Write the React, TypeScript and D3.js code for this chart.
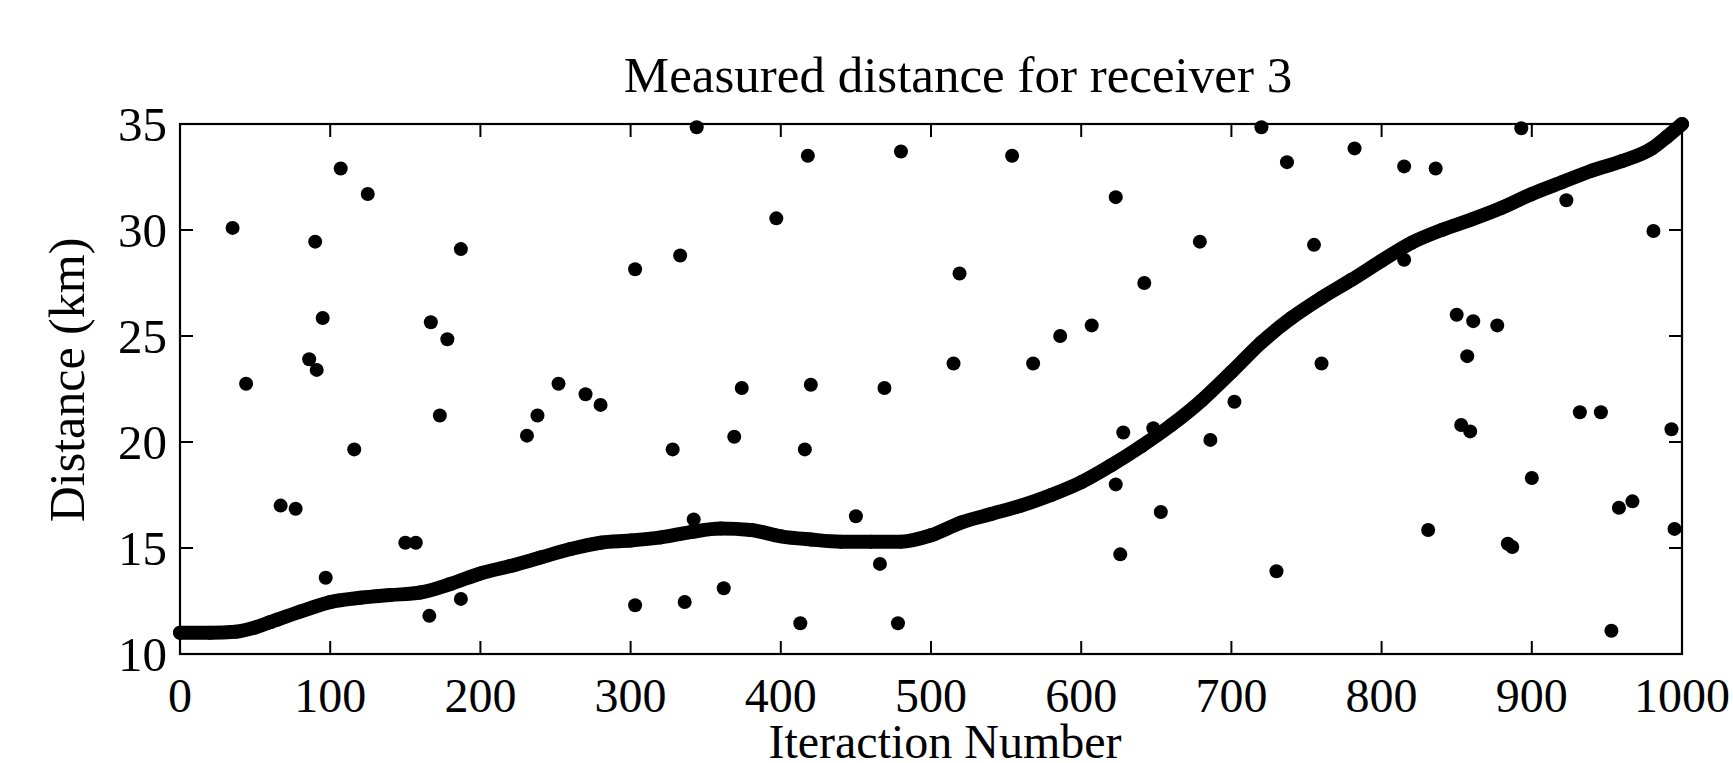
import React from "react";
import * as d3 from "d3";

// Dense tracked-distance curve (iteration, km)
const curveIter = [0, 20, 37, 50, 60, 80, 100, 120, 140, 160, 180, 200, 220, 240, 260, 280, 300, 320, 340, 360, 380, 400, 420, 440, 460, 480, 500, 520, 540, 560, 580, 600, 620, 640, 660, 680, 700, 720, 740, 760, 780, 800, 820, 840, 860, 880, 900, 920, 940, 960, 980, 990, 1000];
const curveDist = [11.0, 11.0, 11.05, 11.25, 11.5, 12.0, 12.45, 12.65, 12.78, 12.9, 13.3, 13.8, 14.15, 14.55, 14.95, 15.25, 15.35, 15.5, 15.75, 15.92, 15.85, 15.55, 15.4, 15.3, 15.3, 15.3, 15.6, 16.2, 16.6, 17.0, 17.5, 18.1, 18.9, 19.8, 20.8, 21.95, 23.3, 24.7, 25.85, 26.8, 27.65, 28.55, 29.4, 30.0, 30.5, 31.05, 31.7, 32.25, 32.8, 33.25, 33.85, 34.4, 35.0];

// Outlier measurements
const outlierIter = [35, 44, 67, 77, 86, 90, 91, 95, 97, 107, 116, 125, 150, 157, 166, 167, 173, 178, 187, 187, 231, 238, 252, 270, 280, 303, 303, 328, 333, 336, 342, 344, 362, 369, 374, 397, 413, 416, 418, 420, 450, 466, 469, 478, 480, 515, 519, 554, 568, 586, 607, 623, 623, 626, 628, 642, 648, 653, 679, 686, 702, 720, 730, 737, 755, 760, 782, 815, 815, 831, 836, 850, 853, 857, 859, 861, 877, 884, 887, 893, 900, 923, 932, 946, 953, 958, 967, 981, 993, 995];
const outlierDist = [30.1, 22.75, 17.0, 16.85, 23.9, 29.45, 23.4, 25.85, 13.6, 32.9, 19.65, 31.7, 15.25, 15.25, 11.8, 25.65, 21.25, 24.85, 29.1, 12.6, 20.3, 21.25, 22.75, 22.25, 21.75, 28.15, 12.3, 19.65, 28.8, 12.45, 16.35, 34.85, 13.1, 20.25, 22.55, 30.55, 11.45, 19.65, 33.5, 22.7, 16.5, 14.25, 22.55, 11.45, 33.7, 23.7, 27.95, 33.5, 23.7, 25.0, 25.5, 31.55, 18.0, 14.7, 20.45, 27.5, 20.65, 16.7, 29.45, 20.1, 21.9, 34.85, 13.9, 33.2, 29.3, 23.7, 33.85, 33.0, 28.6, 15.85, 32.9, 26.0, 20.8, 24.05, 20.5, 25.7, 25.5, 15.2, 15.05, 34.8, 18.3, 31.4, 21.4, 21.4, 11.1, 16.9, 17.2, 29.95, 20.6, 15.9];

const xTicks = [0, 100, 200, 300, 400, 500, 600, 700, 800, 900, 1000];
const yTicks = [10, 15, 20, 25, 30, 35];

const titleText = "Measured distance for receiver 3";
const xLabel = "Iteraction Number";
const yLabel = "Distance (km)";

export default function App() {
  const W = 1733, H = 763;
  const L = 180, R = 1682, T = 124, B = 654;
  const x = d3.scaleLinear().domain([0, 1000]).range([L, R]);
  const y = d3.scaleLinear().domain([10, 35]).range([B, T]);
  const font = "'Liberation Serif', 'Times New Roman', serif";
  const dotR = 7;
  const tickLen = 13;

  const curvePts: [number, number][] = curveIter.map((d, i) => [d, curveDist[i]]);
  const line = d3
    .line<[number, number]>()
    .x((d) => x(d[0]))
    .y((d) => y(d[1]))
    .curve(d3.curveMonotoneX);

  return (
    <svg
      width={W}
      height={H}
      style={{ position: "absolute", left: 0, top: 0, background: "#fff" }}
      fontFamily={font}
    >
      <rect x={0} y={0} width={W} height={H} fill="#fff" />
      {/* title */}
      <text x={958} y={92} fontSize={51} textAnchor="middle" fill="#000">
        {titleText}
      </text>
      {/* box */}
      <rect x={L} y={T} width={R - L} height={B - T} fill="none" stroke="#000" strokeWidth={2.2} />
      {/* x ticks */}
      {xTicks.map((t) => (
        <g key={"xt" + t}>
          <line x1={x(t)} x2={x(t)} y1={B} y2={B - tickLen} stroke="#000" strokeWidth={2} />
          <line x1={x(t)} x2={x(t)} y1={T} y2={T + tickLen} stroke="#000" strokeWidth={2} />
          <text x={x(t)} y={712} fontSize={48} textAnchor="middle" fill="#000">
            {t}
          </text>
        </g>
      ))}
      {/* y ticks */}
      {yTicks.map((t) => (
        <g key={"yt" + t}>
          <line x1={L} x2={L + tickLen} y1={y(t)} y2={y(t)} stroke="#000" strokeWidth={2} />
          <line x1={R} x2={R - tickLen} y1={y(t)} y2={y(t)} stroke="#000" strokeWidth={2} />
          <text x={167} y={y(t)} dy="0.34em" fontSize={49} textAnchor="end" fill="#000">
            {t}
          </text>
        </g>
      ))}
      {/* axis labels */}
      <text x={945} y={758} fontSize={48} textAnchor="middle" fill="#000">
        {xLabel}
      </text>
      <text
        transform={`translate(84, 380) rotate(-90)`}
        fontSize={50}
        textAnchor="middle"
        fill="#000"
      >
        {yLabel}
      </text>
      {/* dense curve */}
      <path
        d={line(curvePts) || ""}
        fill="none"
        stroke="#000"
        strokeWidth={dotR * 2}
        strokeLinecap="round"
        strokeLinejoin="round"
      />
      {curvePts.map((p, i) => (
        <circle key={"c" + i} cx={x(p[0])} cy={y(p[1])} r={dotR} fill="#000" />
      ))}
      {/* outliers */}
      {outlierIter.map((v, i) => (
        <circle key={"o" + i} cx={x(v)} cy={y(outlierDist[i])} r={dotR} fill="#000" />
      ))}
    </svg>
  );
}
